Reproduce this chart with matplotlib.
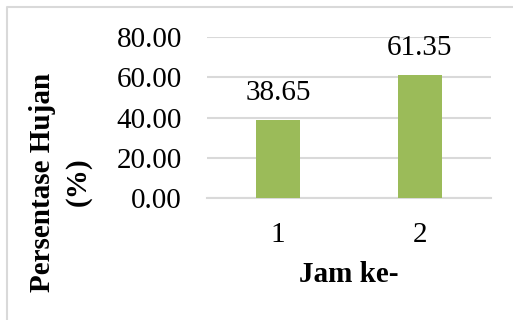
import matplotlib
matplotlib.use("Agg")
import matplotlib.pyplot as plt
from matplotlib.lines import Line2D

# data
categories = ["1", "2"]
values = [38.65, 61.35]
y_ticks = [0, 20, 40, 60, 80]

BAR_COLOR = "#9bbb59"
GRID_COLOR = "#d9d9d9"
FS = 21

plt.rcParams.update({
    "font.family": "serif",
    "font.serif": ["Liberation Serif", "DejaVu Serif"],
    "font.size": FS,
})

fig = plt.figure(figsize=(5.13, 3.20), dpi=100)
W, H = 513, 320
ax = fig.add_axes([207 / W, 1 - 198 / H, (491 - 207) / W, (198 - 37) / H])

x = range(len(categories))
bars = ax.bar(x, values, width=0.31, color=BAR_COLOR, zorder=3)
ax.set_xlim(-0.5, len(categories) - 0.5)
ax.set_ylim(0, 80)
ax.set_yticks(y_ticks)
ax.set_yticklabels([f"{v:.2f}" for v in y_ticks])
ax.set_xticks(list(x))
ax.set_xticklabels(categories)
ax.yaxis.grid(True, color=GRID_COLOR, lw=1.5, zorder=0)
for s in ["top", "right", "left"]:
    ax.spines[s].set_visible(False)
ax.spines["bottom"].set_color(GRID_COLOR)
ax.spines["bottom"].set_linewidth(1.5)
ax.tick_params(axis="both", length=0, labelsize=FS)
ax.tick_params(axis="y", pad=18)
ax.tick_params(axis="x", pad=17)

for b, v in zip(bars, values):
    ax.annotate(f"{v:.2f}", xy=(b.get_x() + b.get_width() / 2, v),
                xytext=(0, 10), textcoords="offset points",
                ha="center", va="bottom", fontsize=FS)

ax.set_xlabel("Jam ke-", fontweight="bold", fontsize=FS, labelpad=10)
fig.text(43 / W, 1 - 182 / H, "Persentase Hujan", rotation=90,
         ha="center", va="center", fontweight="bold", fontsize=FS)
fig.text(78 / W, 1 - 182 / H, "(%)", rotation=90,
         ha="center", va="center", fontweight="bold", fontsize=FS)

# outer chart border (only left and top edges visible in the crop)
fig.lines.append(Line2D([7 / W, 7 / W, 1.0], [0.0, 1 - 7 / H, 1 - 7 / H],
                        transform=fig.transFigure, color=GRID_COLOR, lw=1.5))

fig.savefig("out.png", dpi=100)
